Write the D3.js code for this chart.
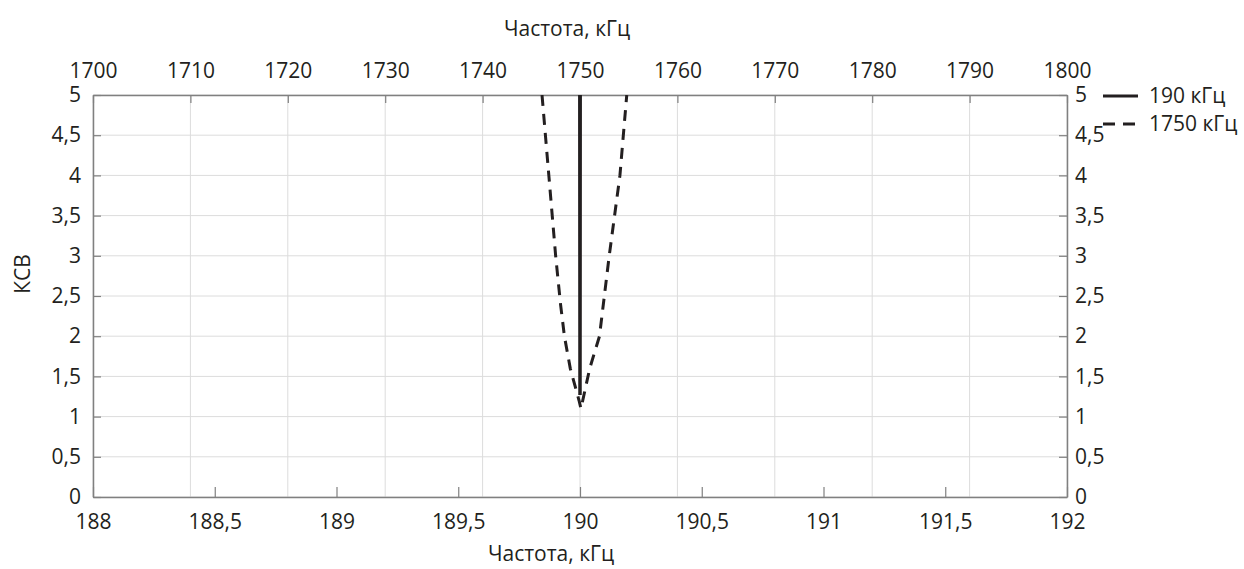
<!DOCTYPE html>
<html>
<head>
<meta charset="utf-8">
<script src="https://cdn.jsdelivr.net/npm/d3@7"></script>
<style>
  body { margin: 0; background: #fff; }
  text { font-family: "Open Sans", sans-serif; fill: #231f20; }
</style>
</head>
<body>
<div id="chart"></div>
<script>
// data
var yTicks = [0, 0.5, 1, 1.5, 2, 2.5, 3, 3.5, 4, 4.5, 5];
var bottomTicks = [188, 188.5, 189, 189.5, 190, 190.5, 191, 191.5, 192];
var topTicks = [1700, 1710, 1720, 1730, 1740, 1750, 1760, 1770, 1780, 1790, 1800];

// 190 kHz series (bottom axis)
var f190 = [189.999, 190, 190.001];
var v190 = [6, 1.27, 6];

// 1750 kHz series (top axis)
var f1750 = [1746.1, 1746.8, 1747.5, 1748.0, 1748.4, 1749.0, 1749.9, 1750.1, 1751.0, 1752.0, 1753.0, 1754.1, 1754.8];
var v1750 = [5, 4, 3, 2.4, 2.0, 1.6, 1.2, 1.1, 1.6, 2.0, 3.0, 4.0, 5.0];

var seriesNames = ["190 кГц", "1750 кГц"];

var width = 1244, height = 569;
var mLeft = 93, mRight = 1067, mTop = 95, mBottom = 497;

var svg = d3.select("#chart").append("svg")
    .attr("width", width)
    .attr("height", height);

var x = d3.scaleLinear().domain([188, 192]).range([mLeft, mRight]);
var x2 = d3.scaleLinear().domain([1700, 1800]).range([mLeft, mRight]);
var y = d3.scaleLinear().domain([0, 5]).range([mBottom, mTop]);

var fmt = function(d) { return String(d).replace(".", ","); };

// grid
svg.append("g").selectAll("line")
    .data(topTicks)
    .enter().append("line")
    .attr("x1", function(d) { return x2(d); })
    .attr("x2", function(d) { return x2(d); })
    .attr("y1", mTop).attr("y2", mBottom)
    .attr("stroke", "#dcdcdc").attr("stroke-width", 1);

svg.append("g").selectAll("line")
    .data(yTicks)
    .enter().append("line")
    .attr("x1", mLeft).attr("x2", mRight)
    .attr("y1", function(d) { return y(d); })
    .attr("y2", function(d) { return y(d); })
    .attr("stroke", "#dcdcdc").attr("stroke-width", 1);

// axes
function styleAxis(g) {
    g.select(".domain").attr("stroke", "#808080").attr("stroke-width", 1.5);
    g.selectAll(".tick line").attr("stroke", "#808080").attr("stroke-width", 1.2);
    g.selectAll(".tick text").style("font-size", "21px").attr("fill", "#231f20");
}

svg.append("g")
    .attr("transform", "translate(0," + mBottom + ")")
    .call(d3.axisBottom(x).tickValues(bottomTicks).tickFormat(fmt).tickSizeInner(-10).tickSizeOuter(0).tickPadding(17))
    .call(styleAxis);

svg.append("g")
    .attr("transform", "translate(0," + mTop + ")")
    .call(d3.axisTop(x2).tickValues(topTicks).tickFormat(d3.format("d")).tickSizeInner(-8).tickSizeOuter(0).tickPadding(17))
    .call(styleAxis);

svg.append("g")
    .attr("transform", "translate(" + mLeft + ",0)")
    .call(d3.axisLeft(y).tickValues(yTicks).tickFormat(fmt).tickSizeInner(-8).tickSizeOuter(0).tickPadding(12))
    .call(styleAxis);

svg.append("g")
    .attr("transform", "translate(" + mRight + ",0)")
    .call(d3.axisRight(y).tickValues(yTicks).tickFormat(fmt).tickSizeInner(-8).tickSizeOuter(0).tickPadding(8))
    .call(styleAxis);

// clip
svg.append("clipPath").attr("id", "clip")
    .append("rect").attr("x", mLeft).attr("y", mTop)
    .attr("width", mRight - mLeft).attr("height", mBottom - mTop);

var line190 = d3.line()
    .x(function(d, i) { return x(f190[i]); })
    .y(function(d, i) { return y(v190[i]); });

var line1750 = d3.line()
    .x(function(d, i) { return x2(f1750[i]); })
    .y(function(d, i) { return y(v1750[i]); });

svg.append("path")
    .attr("clip-path", "url(#clip)")
    .attr("d", line1750(f1750))
    .attr("fill", "none")
    .attr("stroke", "#231f20")
    .attr("stroke-width", 3)
    .attr("stroke-dasharray", "11,8");

svg.append("path")
    .attr("clip-path", "url(#clip)")
    .attr("d", line190(f190))
    .attr("fill", "none")
    .attr("stroke", "#231f20")
    .attr("stroke-width", 3.5);

// labels
svg.append("text")
    .attr("x", 567).attr("y", 36)
    .attr("text-anchor", "middle")
    .style("font-size", "21px")
    .text("Частота, кГц");

svg.append("text")
    .attr("x", 551).attr("y", 561)
    .attr("text-anchor", "middle")
    .style("font-size", "21px")
    .text("Частота, кГц");

svg.append("text")
    .attr("transform", "translate(30,274) rotate(-90)")
    .attr("text-anchor", "middle")
    .style("font-size", "21px")
    .text("КСВ");

// legend
var legend = svg.append("g").selectAll("g")
    .data(seriesNames)
    .enter().append("g")
    .attr("transform", function(d, i) { return "translate(1103," + (96 + i * 28) + ")"; });

legend.append("line")
    .attr("x1", 0).attr("x2", 35)
    .attr("stroke", "#231f20")
    .attr("stroke-width", 3)
    .attr("stroke-dasharray", function(d, i) { return i ? "12,8" : null; });

legend.append("text")
    .attr("x", 46).attr("dy", "0.35em")
    .style("font-size", "21px")
    .text(function(d) { return d; });
</script>
</body>
</html>
